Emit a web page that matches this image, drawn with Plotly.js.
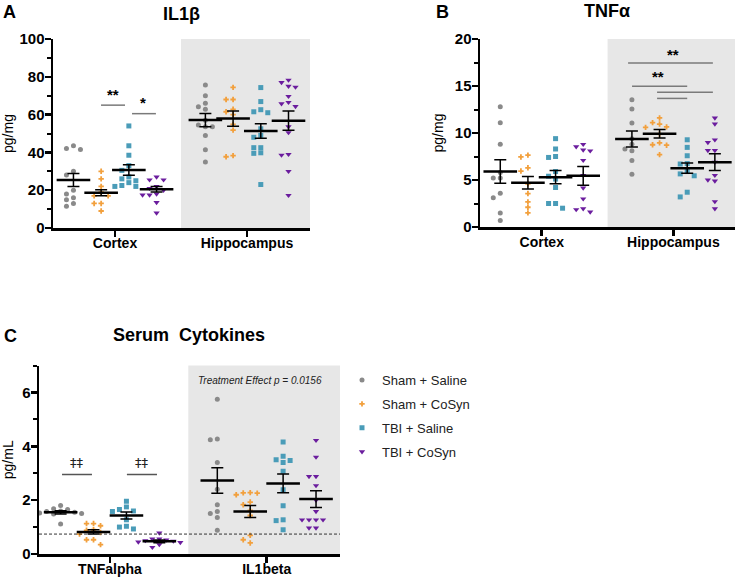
<!DOCTYPE html>
<html>
<head>
<meta charset="utf-8">
<script src="https://cdn.plot.ly/plotly-3.0.1.min.js"></script>
<style>
  html, body { margin: 0; padding: 0; background: #fff; }
  #chart { width: 738px; height: 579px; }
</style>
</head>
<body>
<div id="chart"></div>
<script>
// groups, in legend order
const groups = ["Sham + Saline", "Sham + CoSyn", "TBI + Saline", "TBI + CoSyn"];
const groupColors = ["#8a8a8a", "#f2a03d", "#4a9cb8", "#6b1d9e"];
const groupSymbols = ["circle", "cross", "square", "triangle-down"];
const groupSizes = [5, 4.5, 5, 5.5];

// A - IL1beta (pg/mg)
const il1bRegions = ["Cortex", "Hippocampus"];
const il1bCortex = [
    [43.5, 42, 41.5, 30, 28, 20, 18, 16, 15, 13, 11.5],
    [30, 26, 22, 19, 17, 17, 13, 13, 9],
    [54, 43.5, 38.5, 33, 30.5, 27, 26, 25, 24, 22.5, 22, 22],
    [27, 25.5, 25.5, 22, 21, 20, 18, 17.5, 17.5, 13.5, 8]
];
const il1bHippo = [
    [75.6, 70, 66, 64.2, 62.8, 57, 54.5, 53.6, 53.6, 48.9, 41.4, 34.9],
    [74.4, 68, 68, 62.8, 61.5, 60, 54.8, 51.8, 38.3, 37.7],
    [74.3, 66.9, 62.6, 61.5, 61, 52.5, 49, 48, 42.5, 42.5, 39.8, 39.5, 23],
    [78.3, 77, 75, 74.6, 69.7, 66.5, 65.8, 64.3, 53.6, 50.5, 39, 38.6, 30, 17.3]
];
const il1bCortexMean = [25.4, 18.7, 30.7, 20.5];
const il1bCortexSem = [3.5, 1.6, 2.8, 1.45];
const il1bHippoMean = [57.1, 57.9, 51.3, 56.8];
const il1bHippoSem = [3.5, 4.0, 3.8, 5.1];

// B - TNFalpha (pg/mg)
const tnfCortex = [
    [12.8, 11.1, 8.8, 5.8, 5.2, 5.2, 3.6, 3.1, 1.5, 0.7],
    [7.65, 7.45, 6.3, 5.95, 4.6, 3.56, 2.67, 2.1, 1.5],
    [9.4, 8.3, 7.5, 7.4, 5.9, 5.4, 5.1, 4.2, 2.5, 2.5, 2.0],
    [8.8, 8.55, 8.2, 8.1, 7.1, 5.5, 4.15, 3.0, 1.95, 1.85, 1.6]
];
const tnfHippo = [
    [13.55, 12.56, 11.07, 9.4, 8.8, 8.3, 8.1, 7.08, 5.62],
    [11.6, 11.1, 10.95, 10.65, 10.6, 9.9, 8.95, 8.75, 8.7, 7.7],
    [9.28, 8.47, 7.58, 6.75, 6.7, 5.9, 5.65, 5.45, 3.7, 3.2],
    [11.6, 10.96, 9.28, 9.0, 8.14, 8.14, 6.9, 5.5, 5.0, 4.9, 2.7, 1.95]
];
const tnfCortexMean = [5.9, 4.7, 5.3, 5.44];
const tnfCortexSem = [1.25, 0.66, 0.7, 1.0];
const tnfHippoMean = [9.36, 9.93, 6.26, 6.9];
const tnfHippoSem = [0.85, 0.45, 0.55, 0.9];

// C - serum cytokines (pg/mL)
const serumLabels = ["TNFalpha", "IL1beta"];
const serumTnf = [
    [1.8, 1.68, 1.65, 1.6, 1.58, 1.55, 1.52, 1.5, 1.49, 1.11],
    [1.13, 1.13, 1.05, 0.9, 0.88, 0.8, 0.74, 0.53, 0.53, 0.35],
    [1.96, 1.75, 1.65, 1.6, 1.58, 1.27, 1.03, 1.0, 0.93],
    [0.78, 0.56, 0.56, 0.52, 0.5, 0.48, 0.45, 0.43, 0.35, 0.25]
];
const serumIl1b = [
    [5.75, 4.27, 4.24, 3.4, 2.4, 1.83, 1.58, 1.5, 1.36, 0.88],
    [2.28, 2.27, 2.26, 2.2, 1.93, 1.83, 1.62, 1.43, 0.69, 0.53, 0.41],
    [4.16, 3.63, 3.5, 3.47, 3.4, 3.07, 2.39, 1.79, 1.27, 1.24, 0.9],
    [4.22, 3.6, 2.88, 2.88, 2.54, 2.0, 1.58, 1.27, 1.27, 1.27, 1.27, 0.97, 0.97]
];
const serumTnfMean = [1.55, 0.82, 1.43, 0.47];
const serumTnfSem = [0.06, 0.08, 0.13, 0.05];
const serumIl1bMean = [2.73, 1.58, 2.62, 2.04];
const serumIl1bSem = [0.47, 0.22, 0.35, 0.31];
const detectionLimit = 0.74;

const W = 738, H = 579;
const FONT = "Arial, 'Liberation Sans', sans-serif";
const xOff = [-0.315, -0.105, 0.105, 0.315];

const panels = [
    { xa: "x", ya: "y", xdom: [53 / W, 310 / W], ydom: [1 - 228 / H, 1 - 39 / H],
      xrange: [0.53, 2.478], yrange: [0, 100], dtick: 20, minor: 10,
      ticks: il1bRegions, title: "pg/mg",
      data: [il1bCortex, il1bHippo], mean: [il1bCortexMean, il1bHippoMean], sem: [il1bCortexSem, il1bHippoSem] },
    { xa: "x2", ya: "y2", xdom: [480 / W, 735 / W], ydom: [1 - 227 / H, 1 - 39 / H],
      xrange: [0.531, 2.468], yrange: [0, 20], dtick: 5, minor: 2.5,
      ticks: il1bRegions, title: "pg/mg",
      data: [tnfCortex, tnfHippo], mean: [tnfCortexMean, tnfHippoMean], sem: [tnfCortexSem, tnfHippoSem] },
    { xa: "x3", ya: "y3", xdom: [39 / W, 340 / W], ydom: [1 - 554 / H, 1 - 365.5 / H],
      xrange: [0.547, 2.468], yrange: [0, 7], dtick: 2, minor: 1,
      ticks: serumLabels, title: "pg/mL",
      data: [serumTnf, serumIl1b], mean: [serumTnfMean, serumIl1bMean], sem: [serumTnfSem, serumIl1bSem] }
];

// simple beeswarm: spread points that would overlap
function swarm(vals, cx, stepX, dyMin) {
    const placed = [];
    const order = [0, -1, 1, -2, 2, -3, 3, -4, 4];
    return vals.map(v => {
        for (const o of order) {
            const x = cx + o * stepX;
            const hit = placed.some(p => Math.abs(p.x - x) < stepX * 0.9 && Math.abs(p.y - v) < dyMin);
            if (!hit) { placed.push({ x: x, y: v }); return x; }
        }
        return cx;
    });
}

const traces = [];
const layout = {
    width: W, height: H,
    margin: { l: 0, r: 0, t: 0, b: 0 },
    paper_bgcolor: "white", plot_bgcolor: "white",
    font: { family: FONT, color: "black" },
    showlegend: true,
    legend: { x: 342 / W, y: 1 - 365 / H, xanchor: "left", yanchor: "top",
              traceorder: "grouped", tracegroupgap: 4,
              font: { family: FONT, size: 13, color: "#222" } },
    shapes: [], annotations: []
};

panels.forEach((p, pi) => {
    const pxX = (p.xdom[1] - p.xdom[0]) * W / (p.xrange[1] - p.xrange[0]);
    const pxY = (p.ydom[1] - p.ydom[0]) * H / (p.yrange[1] - p.yrange[0]);
    const stepX = 7 / pxX, dyMin = 5 / pxY;
    const mx = [], my = [], me = [];
    p.data.forEach((region, ri) => {
        region.forEach((vals, gi) => {
            const cx = ri + 1 + xOff[gi];
            traces.push({
                type: "scatter", mode: "markers",
                x: swarm(vals, cx, stepX, dyMin), y: vals,
                xaxis: p.xa, yaxis: p.ya,
                name: groups[gi], legendgroup: groups[gi],
                showlegend: pi === 2 && ri === 0,
                marker: { symbol: groupSymbols[gi], size: groupSizes[gi], color: groupColors[gi], line: { width: 0 } },
                hoverinfo: "y"
            });
            mx.push(cx); my.push(p.mean[ri][gi]); me.push(p.sem[ri][gi]);
        });
    });
    traces.push({
        type: "scatter", mode: "markers", x: mx, y: my,
        xaxis: p.xa, yaxis: p.ya, showlegend: false, hoverinfo: "y",
        marker: { symbol: "line-ew", size: 24, color: "black", line: { width: 2.5, color: "black" } },
        error_y: { type: "data", array: me, visible: true, color: "black", thickness: 1.5, width: 6 }
    });

    const sfx = pi === 0 ? "" : String(pi + 1);
    layout["xaxis" + sfx] = {
        domain: p.xdom, range: p.xrange, anchor: p.ya, fixedrange: true,
        showline: true, linewidth: 2.5, linecolor: "black", mirror: false,
        showgrid: false, zeroline: false,
        tickmode: "array", tickvals: [1, 2], ticktext: p.ticks,
        ticks: "outside", ticklen: 6, tickwidth: 2.5, tickcolor: "black",
        ticklabelstandoff: -5,
        tickfont: { family: FONT, size: 14, weight: "bold", color: "black" }
    };
    layout["yaxis" + sfx] = {
        domain: p.ydom, range: p.yrange, anchor: p.xa, fixedrange: true,
        showline: true, linewidth: 2.5, linecolor: "black",
        showgrid: false, zeroline: false,
        tick0: 0, dtick: p.dtick,
        ticks: "outside", ticklen: 6, tickwidth: 2.5, tickcolor: "black",
        ticklabelstandoff: -3,
        minor: { dtick: p.minor, ticks: "outside", ticklen: 4, tickwidth: 2, tickcolor: "black", showgrid: false },
        tickfont: { family: FONT, size: 15, weight: "bold", color: "black" },
        title: { text: p.title, standoff: 8, font: { family: FONT, size: 14, color: "black" } }
    };
    // grey background for the second region
    layout.shapes.push({
        type: "rect", xref: p.xa, yref: p.ya + " domain", layer: "below",
        x0: 1.5, x1: p.xrange[1], y0: 0, y1: 1,
        fillcolor: "#e7e7e7", line: { width: 0 }
    });
});

// significance lines
function sigLine(xa, ya, x0, x1, y, color) {
    layout.shapes.push({ type: "line", xref: xa, yref: ya, x0: x0, x1: x1, y0: y, y1: y,
                         line: { color: color || "#7a7a7a", width: 1.5 } });
}
function note(xa, ya, x, y, text, size, extra) {
    layout.annotations.push(Object.assign({ xref: xa, yref: ya, x: x, y: y, text: text, showarrow: false,
        font: { family: FONT, size: size, color: "black", weight: "bold" } }, extra || {}));
}

sigLine("x", "y", 0.894, 1.076, 65);
sigLine("x", "y", 1.129, 1.31, 60.5);
note("x", "y", 0.985, 70.5, "**", 15);
note("x", "y", 1.21, 66.2, "*", 15);

sigLine("x2", "y2", 1.656, 2.30, 17.45);
sigLine("x2", "y2", 1.686, 2.105, 14.97);
sigLine("x2", "y2", 1.876, 2.30, 14.33);
sigLine("x2", "y2", 1.876, 2.105, 13.68);
note("x2", "y2", 2.0, 18.4, "**", 15);
note("x2", "y2", 1.886, 16.0, "**", 15);

const daggerFont = { family: "'DejaVu Sans', sans-serif", size: 13, color: "#222222" };
sigLine("x3", "y3", 0.694, 0.885, 2.95, "#555");
sigLine("x3", "y3", 1.108, 1.30, 2.95, "#555");
note("x3", "y3", 0.79, 3.4, "‡‡", 13, { font: daggerFont });
note("x3", "y3", 1.204, 3.4, "‡‡", 13, { font: daggerFont });
note("x3", "y3", 1.957, 6.43, "Treatment Effect p = 0.0156", 10,
     { font: { family: FONT, size: 10, color: "#222", style: "italic" } });
layout.shapes.push({ type: "line", xref: "x3 domain", yref: "y3", x0: 0, x1: 1,
                     y0: detectionLimit, y1: detectionLimit,
                     line: { color: "#333", width: 1, dash: "3px,2px" } });

// panel letters and titles
function paperText(x, y, text, size) {
    layout.annotations.push({ xref: "paper", yref: "paper", x: x / W, y: 1 - y / H, text: text,
        showarrow: false, xanchor: "center", yanchor: "middle",
        font: { family: FONT, size: size, color: "black", weight: "bold" } });
}
paperText(9, 12, "A", 18);
paperText(181, 14, "IL1β", 18);
paperText(442, 12, "B", 18);
paperText(607, 11, "TNFα", 18);
paperText(10, 336, "C", 18);
paperText(189, 335, "Serum\u00a0\u00a0Cytokines", 18);

Plotly.newPlot("chart", traces, layout, { displayModeBar: false, staticPlot: true });
</script>
</body>
</html>
